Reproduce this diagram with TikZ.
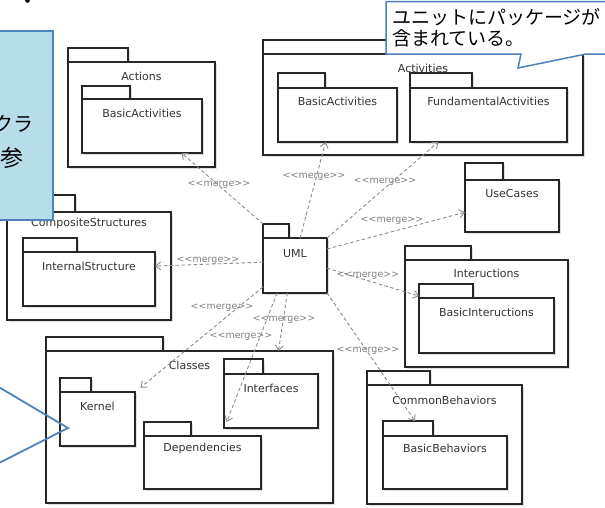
\documentclass[tikz,border=0pt]{standalone}
\usepackage{fontspec}
\setmainfont{DejaVu Sans}
\newfontfamily\jpfont{Noto Sans CJK JP}
\usetikzlibrary{arrows.meta,calc,shadows}
\definecolor{calloutblue}{RGB}{79,129,189}
\definecolor{calloutfill}{RGB}{183,222,232}

\tikzset{
  pkgframe/.style={draw=black!85, line width=1.3pt, fill=white, inner sep=0pt, outer sep=0pt,
    drop shadow={shadow xshift=1.8pt, shadow yshift=-1.8pt, opacity=0.25}},
  pkglabel/.style={font=\fontsize{11}{13}\selectfont, text=black!80, inner sep=0pt},
  merge/.style={draw=black!45, line width=0.9pt, dash pattern=on 3.5pt off 2.5pt,
    -{Straight Barb[length=5pt,width=8pt]}},
  mergelabel/.style={font=\fontsize{9.5}{10}\selectfont, text=black!50, inner sep=1pt},
  jptext/.style={font=\jpfont\fontsize{19}{20}\selectfont, inner sep=0pt},
  callout/.style={draw=calloutblue, line width=1.5pt},
}

% package: name, left, tab top, tab right, body top, right, bottom, title, title offset
\newcommand\pkg[9]{%
  \node[pkgframe, anchor=north west, minimum width={(#4-#2)*1pt}, minimum height={(#5-#3)*1pt}] (#1-tab) at (#2,#3) {};
  \node[pkgframe, anchor=north west, minimum width={(#6-#2)*1pt}, minimum height={(#7-#5)*1pt}] (#1) at (#2,#5) {};
  \node[pkglabel, yshift=-#9pt] (#1-name) at (#1.north) {#8};
}

\begin{document}
\begin{tikzpicture}[x=1pt, y=-1pt]
  \useasboundingbox (0,0) rectangle (605,507);
  \clip (0,0) rectangle (605,507);
  \fill[white] (0,0) rectangle (605,507);

  % packages
  \pkg{actions}{68}{48}{128}{62}{215}{167}{Actions}{14}
  \pkg{actba}{82}{86}{130}{99}{202}{153}{BasicActivities}{14}
  \pkg{activities}{263}{40}{400}{54}{583}{155}{Activities}{14}
  \pkg{aba}{278}{73}{325}{88}{397}{142}{BasicActivities}{13.5}
  \pkg{fund}{410}{73}{472}{88}{567}{142}{FundamentalActivities}{13.5}
  \pkg{usecases}{465}{163}{503}{180}{559}{232}{UseCases}{13}
  \pkg{inter}{405}{246}{471}{260}{568}{367}{Inteructions}{13}
  \pkg{binter}{419}{284}{473}{298}{554}{353}{BasicInteructions}{14}
  \pkg{common}{367}{371}{430}{385}{522}{504}{CommonBehaviors}{15}
  \pkg{bbeh}{383}{421}{433}{436}{507}{489}{BasicBehaviors}{12}
  \pkg{composite}{7}{195}{75}{212}{171}{320}{CompositeStructures}{11.5}
  \pkg{internal}{23}{238}{77}{252}{155}{306}{InternalStructure}{14}
  \pkg{classes}{46}{337}{163}{351}{333}{503}{Classes}{14}
  \pkg{kernel}{60}{378}{91}{392}{135}{446}{Kernel}{14}
  \pkg{dep}{144}{422}{191}{436}{261}{489}{Dependencies}{12}
  \pkg{interfaces}{224}{359}{263}{374}{318}{428}{Interfaces}{14}
  \pkg{uml}{263}{224}{289}{238}{327}{293}{UML}{16}

  % merge dependencies from UML
  \draw[merge] (uml-tab.north west) -- ($(actba.south west)!0.83!(actba.south east)$);
  \draw[merge] ($(uml.north west)!0.58!(uml.north east)$) -- ($(aba.south west)!0.40!(aba.south east)$);
  \draw[merge] (uml.north east) -- ($(fund.south west)!0.18!(fund.south east)$);
  \draw[merge] ($(uml.north east)!0.2!(uml.south east)$) -- ($(usecases.north west)!0.62!(usecases.south west)$);
  \draw[merge] ($(uml.north east)!0.55!(uml.south east)$) -- ($(binter-tab.north west)!0.86!(binter-tab.south west)$);
  \draw[merge] (uml.south east) -- ($(bbeh-tab.north west)!0.64!(bbeh-tab.north east)$);
  \draw[merge] ($(uml.south west)!0.38!(uml.south east)$) -- ($(classes.north west)!0.81!(classes.north east)$);
  \draw[merge, shorten >=15pt] ($(uml.south west)!0.22!(uml.south east)$) -- ($(dep.north west)!0.66!(dep.north east)$);
  \draw[merge, shorten >=7pt] ($(uml.north west)!0.89!(uml.south west)$) -- (kernel.north east);
  \draw[merge] ($(uml.north west)!0.44!(uml.south west)$) -- ($(internal.north east)!0.26!(internal.south east)$);

  \node[mergelabel] (m1) at (219,185) {<{}<merge>{}>};
  \node[mergelabel] (m2) at (314,177) {<{}<merge>{}>};
  \node[mergelabel] (m3) at (385,182) {<{}<merge>{}>};
  \node[mergelabel] (m4) at (392,221) {<{}<merge>{}>};
  \node[mergelabel] (m5) at (368,276) {<{}<merge>{}>};
  \node[mergelabel] (m6) at (368,351) {<{}<merge>{}>};
  \node[mergelabel] (m7) at (284,320) {<{}<merge>{}>};
  \node[mergelabel] (m8) at (241,337) {<{}<merge>{}>};
  \node[mergelabel] (m9) at (222,308) {<{}<merge>{}>};
  \node[mergelabel] (m10) at (208,261) {<{}<merge>{}>};

  % callouts
  \draw[callout, fill=white] (386,1.5) -- (615,1.5) -- (615,54) -- (586,54) -- (518,68) -- (521,54) -- (386,54) -- cycle;
  \node[jptext, anchor=west] (note1a) at (392,17) {ユニットにパッケージが};
  \node[jptext, anchor=west] (note1b) at (392,38) {含まれている。};

  \draw[callout, fill=calloutfill] (-5,31) rectangle (53,220);
  \node[jptext, anchor=east, font=\jpfont\fontsize{20}{21}\selectfont] (note2a) at (34,124) {クラ};
  \node[jptext, anchor=east, font=\jpfont\fontsize{23}{24}\selectfont] (note2b) at (24,158) {参};

  \draw[callout, line width=1.8pt] (-3,386) -- (68,428) -- (-3,464);

  \fill (27.5,0.5) circle (2.3);
\end{tikzpicture}
\end{document}
